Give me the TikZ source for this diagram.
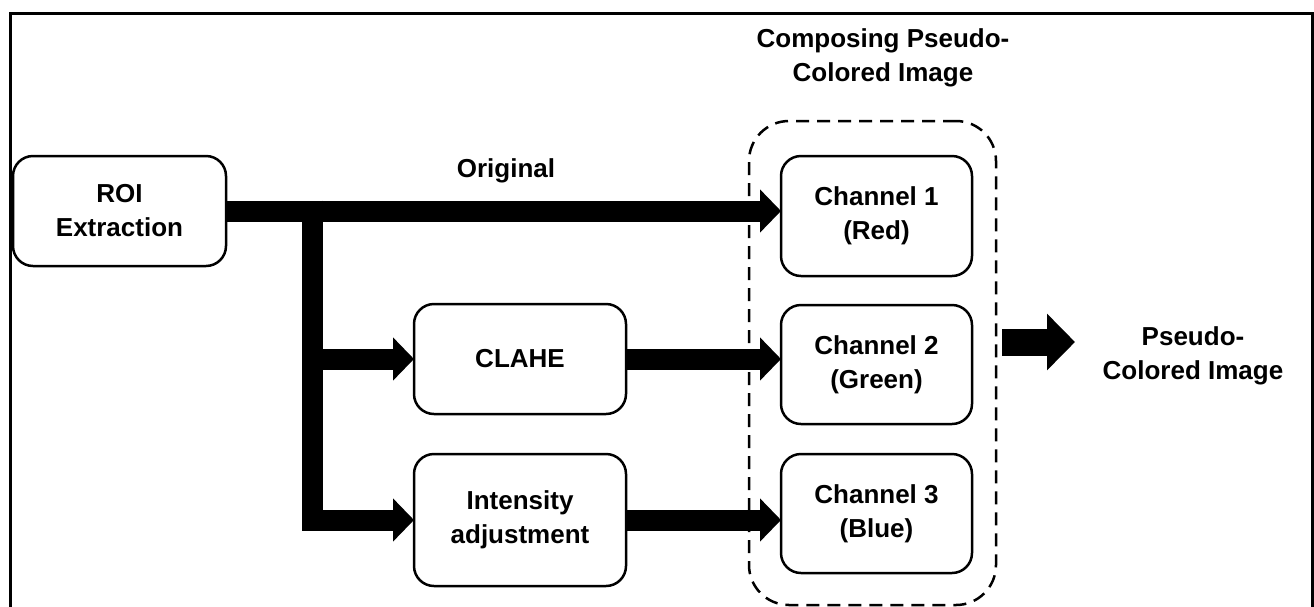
\documentclass[tikz,border=0pt]{standalone}
\usepackage{fontspec}
\setmainfont{Liberation Sans}
\usetikzlibrary{arrows.meta,calc}
\newcommand\diagfont{\fontsize{26}{34}\selectfont\bfseries}
\begin{document}
\begin{tikzpicture}[x=1pt,y=-1pt,
  box/.style={draw, line width=2.5pt, rounded corners=20pt, align=center,
    font=\diagfont, inner sep=0pt, outer sep=0pt},
  group/.style={draw, dashed, line width=2.5pt, dash pattern=on 13pt off 8pt,
    rounded corners=40pt, inner sep=0pt, outer sep=0pt},
  label/.style={align=center, font=\diagfont, inner sep=0pt},
  fatarrow/.style={line width=21pt, -{Triangle[length=21pt,width=42pt]}},
  bigarrow/.style={line width=27pt, -{Triangle[length=28pt,width=55pt]}},
  frame/.style={line width=3pt}]
\useasboundingbox (0,0) rectangle (1314,606);
% outer frame (bottom edge lies outside the picture)
\draw[frame] (10,620) -- (10,13.5) -- (1312,13.5) -- (1312,620);

% nodes
\node[box, minimum width=213pt, minimum height=110pt] (roi) at (119.5,211) {ROI\\Extraction};
\node[box, minimum width=212pt, minimum height=110pt] (clahe) at (520,359) {CLAHE};
\node[box, minimum width=212pt, minimum height=132pt] (intens) at (520,520) {Intensity\\adjustment};
\node[group, minimum width=247pt, minimum height=484pt] (grp) at (872.5,363) {};
\node[box, minimum width=191pt, minimum height=120pt] (ch1) at (876.5,216) {Channel 1\\(Red)};
\node[box, minimum width=191pt, minimum height=119pt] (ch2) at (876.5,364.5) {Channel 2\\(Green)};
\node[box, minimum width=191pt, minimum height=119pt] (ch3) at (876.5,513.5) {Channel 3\\(Blue)};
\node[label] (title) at (883,58) {Composing Pseudo-\\Colored Image};
\node[label] (orig) at (506,171) {Original};
\node[label] (out) at (1193,356) {Pseudo-\\Colored Image};

% connectors
\coordinate (jtop) at (312.5,200.5);
\coordinate (jbot) at (312.5,530.5);
\draw[fatarrow] (roi.east) -- (roi.east -| ch1.west);
\draw[line width=21pt] (jtop) -- (jbot);
\draw[fatarrow] (jtop |- clahe.west) -- (clahe.west);
\draw[fatarrow] (jtop |- intens.west) -- (intens.west);
\draw[fatarrow] (clahe.east) -- (clahe.east -| ch2.west);
\draw[fatarrow] (intens.east) -- (intens.east -| ch3.west);
\coordinate (oa) at (1002,342);
\coordinate (ob) at (1075,342);
\draw[bigarrow] (oa) -- (ob);
\end{tikzpicture}
\end{document}
